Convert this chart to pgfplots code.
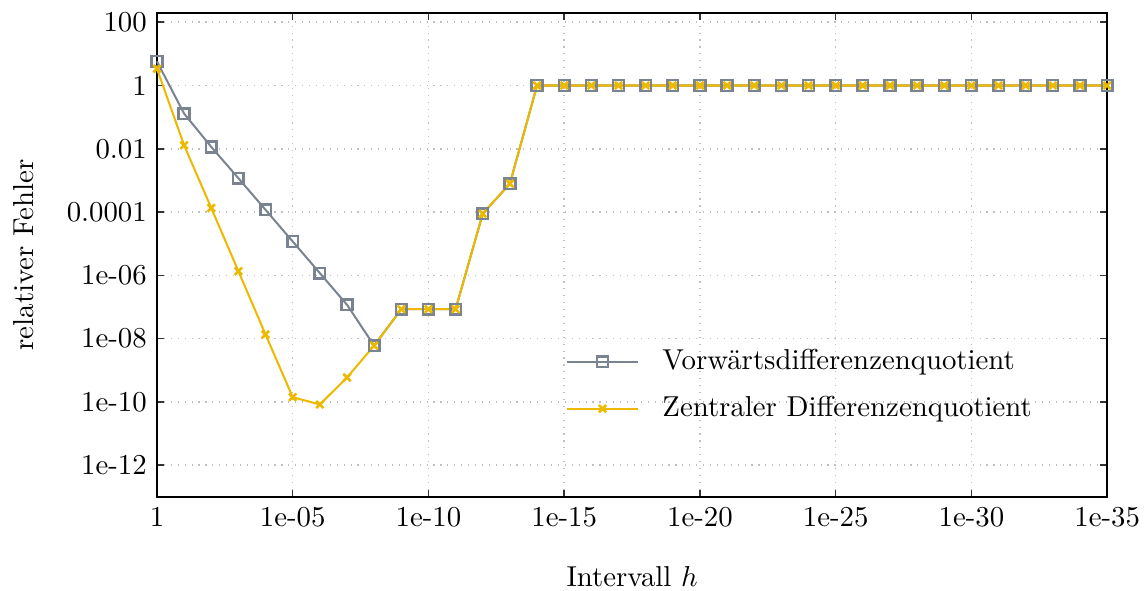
\documentclass[border=0pt]{standalone}
\usepackage{pgfplots}
\pgfplotsset{compat=1.18}
\definecolor{fwdgray}{RGB}{122,132,145}
\definecolor{cenyellow}{RGB}{236,185,0}

\begin{document}
\begin{tikzpicture}
\begin{axis}[
    scale only axis,
    width=329.9pt, height=168.1pt,
    xmin=0, xmax=35,
    ymode=log, ymin=1e-13, ymax=200,
    xtick={0,5,...,35},
    xticklabels={1,1e-05,1e-10,1e-15,1e-20,1e-25,1e-30,1e-35},
    ytick={1e2,1,1e-2,1e-4,1e-6,1e-8,1e-10,1e-12},
    yticklabels={100,1,0.01,0.0001,1e-06,1e-08,1e-10,1e-12},
    minor tick num=0,
    tick align=inside,
    major tick length=2.5pt,
    tick style={black!80, line width=0.5pt},
    axis line style={line width=0.6pt},
    grid=major,
    major grid style={dotted, gray!50, line width=0.5pt},
    xlabel={Intervall $h$},
    ylabel={relativer Fehler},
    xlabel style={at={(axis description cs:0.5,-0.1844)}, anchor=base},
    ylabel style={at={(axis description cs:-0.1303,0.5)}, anchor=base, rotate=0},
    clip=false,
    legend style={draw=none, fill=none, at={(axis description cs:0.4295,0.2308)}, anchor=west,
        inner sep=0pt, row sep=7.8pt, column sep=8pt, nodes={inner sep=0pt},
        cells={anchor=west}},
    legend image code/.code={%
        \draw[mark repeat=2,mark phase=2] plot coordinates {(0pt,0pt) (12.45pt,0pt) (24.9pt,0pt)};},
]
\addplot[color=fwdgray, line width=0.7pt, mark=square, mark size=1.85pt,
    mark options={line width=0.9pt}] coordinates {
 (0,5.75) (1,0.129) (2,0.01148) (3,1.175e-3) (4,1.175e-4) (5,1.175e-5)
 (6,1.175e-6) (7,1.175e-7) (8,6.03e-9) (9,8.51e-8) (10,8.51e-8) (11,8.51e-8)
 (12,8.9e-5) (13,7.9e-4) (14,1) (15,1) (16,1) (17,1) (18,1) (19,1) (20,1)
 (21,1) (22,1) (23,1) (24,1) (25,1) (26,1) (27,1) (28,1) (29,1) (30,1)
 (31,1) (32,1) (33,1) (34,1) (35,1)
};
\addlegendentry{Vorwärtsdifferenzenquotient}
\addplot[color=cenyellow, line width=0.7pt, mark=x, mark size=1.8pt,
    mark options={line width=0.9pt}] coordinates {
 (0,3.39) (1,0.0129) (2,1.35e-4) (3,1.35e-6) (4,1.35e-8) (5,1.41e-10)
 (6,8.3e-11) (7,5.9e-10) (8,6.03e-9) (9,8.51e-8) (10,8.51e-8) (11,8.51e-8)
 (12,8.9e-5) (13,7.9e-4) (14,1) (15,1) (16,1) (17,1) (18,1) (19,1) (20,1)
 (21,1) (22,1) (23,1) (24,1) (25,1) (26,1) (27,1) (28,1) (29,1) (30,1)
 (31,1) (32,1) (33,1) (34,1) (35,1)
};
\addlegendentry{Zentraler Differenzenquotient}
\end{axis}
\pgfresetboundingbox
\useasboundingbox ([shift={(-54.5pt,-32.4pt)}]current axis.south west) rectangle ([shift={(12.8pt,4.4pt)}]current axis.north east);
\end{tikzpicture}
\end{document}
